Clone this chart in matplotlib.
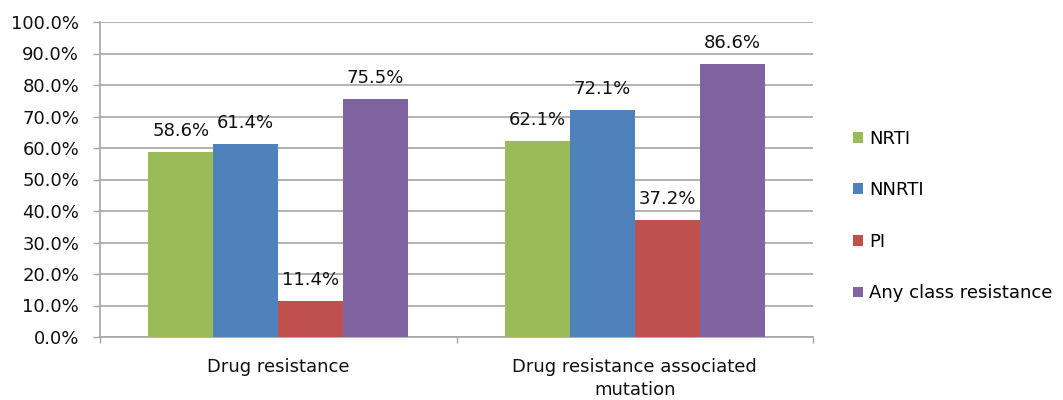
import matplotlib
matplotlib.use('Agg')
import matplotlib.pyplot as plt
import numpy as np

categories = ['Drug resistance', 'Drug resistance associated\nmutation']
series = ['NRTI', 'NNRTI', 'PI', 'Any class resistance']
nrti = [58.6, 62.1]
nnrti = [61.4, 72.1]
pi = [11.4, 37.2]
any_class = [75.5, 86.6]
colors = ['#9BBB59', '#4F81BD', '#C0504D', '#8064A2']
yticks = np.arange(0, 101, 10)

plt.rcParams['font.family'] = ['DejaVu Sans']
fs = 13
grid_c = '#A6A6A6'

fig = plt.figure(figsize=(10.63, 4.0), dpi=100)
ax = fig.add_axes([100 / 1063, 1 - 337 / 400, 713 / 1063, 315 / 400])

values = [nrti, nnrti, pi, any_class]
x = np.arange(len(categories)) + 0.5
w = 0.182
for i, (name, vals) in enumerate(zip(series, values)):
    pos = x + (i - 1.5) * w
    ax.bar(pos, vals, w, color=colors[i], label=name, zorder=3)
    for p, v in zip(pos, vals):
        ax.annotate(f'{v:.1f}%', (p, v), xytext=(0, 11.5), textcoords='offset points',
                    ha='center', va='baseline', fontsize=fs, color='#111111')

ax.set_xlim(0, len(categories))
ax.set_ylim(0, 100)
ax.set_yticks(yticks)
ax.set_yticklabels([f'{t:.1f}%' for t in yticks], fontsize=fs, color='#111111')
ax.yaxis.grid(True, color=grid_c, linewidth=1.2, zorder=0)
ax.tick_params(axis='y', length=5, width=1, color=grid_c, pad=10)

ax.set_xticks(x)
ax.set_xticklabels(categories, fontsize=fs, color='#111111', linespacing=1.35)
ax.set_xticks([0, 1, 2], minor=True)
ax.tick_params(axis='x', which='major', length=0, pad=15)
ax.tick_params(axis='x', which='minor', length=4.5, width=1, color=grid_c)

for s in ['top', 'right']:
    ax.spines[s].set_visible(False)
for s in ['left', 'bottom']:
    ax.spines[s].set_color(grid_c)
    ax.spines[s].set_linewidth(1.2)

ax.legend(loc='center left', bbox_to_anchor=(853 / 1063, 1 - 216 / 400),
          bbox_transform=fig.transFigure, frameon=False, fontsize=fs,
          handlelength=0.55, handleheight=0.55, handletextpad=0.35,
          labelspacing=1.86, borderpad=0, borderaxespad=0)

fig.savefig('out.png', dpi=100)
